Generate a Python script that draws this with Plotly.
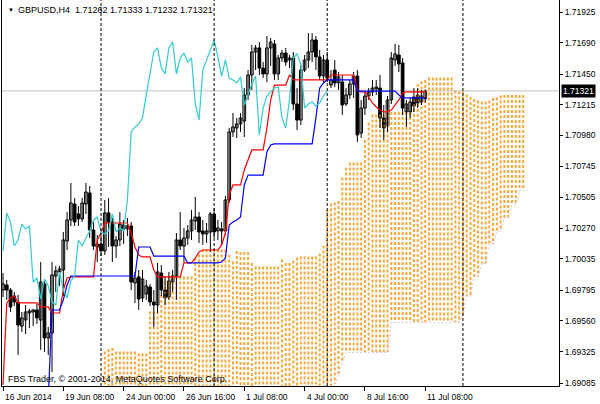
import plotly.graph_objects as go

# ---------------- data (GBPUSD H4, bar 0 = 16 Jun 2014 16:00) ----------------
OPEN = [1.69797, 1.69835, 1.69797, 1.69751, 1.69705, 1.69521, 1.69567, 1.69621, 1.69629, 1.69644,
        1.69567, 1.69843, 1.69430, 1.69468, 1.69904, 1.69935, 1.69950, 1.70172, 1.70333, 1.70455,
        1.70379, 1.70341, 1.70455, 1.70540, 1.70256, 1.70126, 1.70149, 1.70096, 1.70387, 1.70318,
        1.70134, 1.70180, 1.70295, 1.70264, 1.70287, 1.69851, 1.69897, 1.69736, 1.69766, 1.69820,
        1.69705, 1.69682, 1.69927, 1.69797, 1.69743, 1.69858, 1.69904, 1.70180, 1.70134, 1.70195,
        1.70249, 1.70325, 1.70356, 1.70249, 1.70226, 1.70241, 1.70379, 1.70249, 1.70264, 1.70249,
        1.70486, 1.71007, 1.71037, 1.71068, 1.71091, 1.71290, 1.71443, 1.71619, 1.71650, 1.71496,
        1.71451, 1.71650, 1.71680, 1.71451, 1.71573, 1.71611, 1.71558, 1.71573, 1.71221, 1.71098,
        1.71481, 1.71558, 1.71619, 1.71711, 1.71581, 1.71435, 1.71558, 1.71366, 1.71481, 1.71382,
        1.71389, 1.71221, 1.71290, 1.71374, 1.71435, 1.70999, 1.71190, 1.71282, 1.71313, 1.71336,
        1.71343, 1.71114, 1.71053, 1.71252, 1.71558, 1.71596, 1.71535, 1.71160, 1.71160, 1.71274,
        1.71290, 1.71236, 1.71262]
HIGH = [1.69927, 1.69874, 1.69812, 1.69782, 1.69759, 1.69629, 1.69682, 1.69652, 1.69652, 1.69690,
        1.70011, 1.69874, 1.69514, 1.70011, 1.69981, 1.69981, 1.70241, 1.70394, 1.70616, 1.70501,
        1.70440, 1.70501, 1.70616, 1.70593, 1.70318, 1.70218, 1.70210, 1.70486, 1.70501, 1.70348,
        1.70210, 1.70394, 1.70333, 1.70348, 1.70318, 1.69935, 1.69950, 1.69950, 1.69874, 1.69843,
        1.69797, 1.70004, 1.69988, 1.69904, 1.69935, 1.69950, 1.70233, 1.70394, 1.70272, 1.70295,
        1.70410, 1.70509, 1.70394, 1.70333, 1.70310, 1.70394, 1.70425, 1.70333, 1.70318, 1.70517,
        1.71037, 1.71152, 1.71114, 1.71152, 1.71343, 1.71481, 1.71673, 1.71673, 1.71695, 1.71542,
        1.71741, 1.71726, 1.71711, 1.71596, 1.71634, 1.71650, 1.71596, 1.71619, 1.71343, 1.71519,
        1.71596, 1.71764, 1.71764, 1.71741, 1.71634, 1.71596, 1.71619, 1.71481, 1.71558, 1.71466,
        1.71443, 1.71343, 1.71405, 1.71466, 1.71481, 1.71252, 1.71313, 1.71343, 1.71405, 1.71405,
        1.71443, 1.71213, 1.71282, 1.71619, 1.71680, 1.71673, 1.71573, 1.71252, 1.71267, 1.71343,
        1.71343, 1.71328, 1.71333]
LOW = [1.69743, 1.69721, 1.69629, 1.69675, 1.69300, 1.69476, 1.69460, 1.69506, 1.69521, 1.69537,
       1.69338, 1.69323, 1.69300, 1.69169, 1.69782, 1.69828, 1.69751, 1.70103, 1.70287, 1.70287,
       1.70287, 1.70318, 1.70379, 1.70195, 1.70103, 1.70011, 1.70057, 1.70065, 1.70126, 1.70011,
       1.70042, 1.70134, 1.70149, 1.70210, 1.69797, 1.69698, 1.69644, 1.69705, 1.69721, 1.69675,
       1.69514, 1.69621, 1.69751, 1.69682, 1.69721, 1.69782, 1.69721, 1.70103, 1.70011, 1.70142,
       1.70180, 1.70256, 1.70157, 1.70142, 1.70157, 1.70088, 1.70195, 1.70180, 1.70142, 1.70218,
       1.70463, 1.70968, 1.70961, 1.71007, 1.70968, 1.71252, 1.71328, 1.71481, 1.71443, 1.71420,
       1.71389, 1.71512, 1.71405, 1.71405, 1.71542, 1.71512, 1.71496, 1.71175, 1.71022, 1.71060,
       1.71466, 1.71496, 1.71542, 1.71481, 1.71405, 1.71389, 1.71389, 1.71343, 1.71351, 1.71328,
       1.71137, 1.71206, 1.71259, 1.71267, 1.70930, 1.70961, 1.71137, 1.71252, 1.71282, 1.71290,
       1.71037, 1.70945, 1.71007, 1.71221, 1.71512, 1.71466, 1.71137, 1.71045, 1.71114, 1.71160,
       1.71190, 1.71213, 1.71232]
CLOSE = [1.69843, 1.69797, 1.69667, 1.69705, 1.69529, 1.69583, 1.69629, 1.69636, 1.69644, 1.69583,
         1.69858, 1.69430, 1.69468, 1.69912, 1.69943, 1.69958, 1.70180, 1.70333, 1.70463, 1.70318,
         1.70341, 1.70463, 1.70547, 1.70256, 1.70134, 1.70149, 1.70096, 1.70387, 1.70318, 1.70134,
         1.70180, 1.70302, 1.70264, 1.70287, 1.69858, 1.69889, 1.69728, 1.69881, 1.69828, 1.69705,
         1.69682, 1.69935, 1.69797, 1.69736, 1.69866, 1.69904, 1.70180, 1.70134, 1.70195, 1.70249,
         1.70333, 1.70356, 1.70241, 1.70226, 1.70249, 1.70379, 1.70241, 1.70272, 1.70249, 1.70486,
         1.71007, 1.71045, 1.71068, 1.71114, 1.71290, 1.71443, 1.71619, 1.71650, 1.71496, 1.71451,
         1.71650, 1.71695, 1.71451, 1.71573, 1.71611, 1.71542, 1.71573, 1.71221, 1.71098, 1.71481,
         1.71558, 1.71619, 1.71711, 1.71581, 1.71435, 1.71558, 1.71420, 1.71405, 1.71382, 1.71428,
         1.71213, 1.71290, 1.71374, 1.71435, 1.70984, 1.71190, 1.71282, 1.71313, 1.71343, 1.71351,
         1.71114, 1.71037, 1.71252, 1.71573, 1.71604, 1.71527, 1.71190, 1.71221, 1.71236, 1.71206,
         1.71229, 1.71282, 1.71321]
TENKAN = [1.69070, 1.69698, 1.69736, 1.69751, 1.69698, 1.69698, 1.69698, 1.69698, 1.69698, 1.69698,
          1.69667, 1.69667, 1.69667, 1.69621, 1.69621, 1.69621, 1.69797, 1.69889, 1.69897, 1.69897,
          1.69897, 1.69897, 1.69897, 1.69897, 1.69897, 1.70180, 1.70233, 1.70310, 1.70310, 1.70310,
          1.70310, 1.70310, 1.70310, 1.70310, 1.70233, 1.70126, 1.70065, 1.70050, 1.70050, 1.70050,
          1.69950, 1.69897, 1.69897, 1.69897, 1.69897, 1.69897, 1.69897, 1.69897, 1.70004, 1.70004,
          1.70004, 1.70042, 1.70088, 1.70103, 1.70103, 1.70103, 1.70103, 1.70103, 1.70142, 1.70233,
          1.70524, 1.70601, 1.70601, 1.70601, 1.70716, 1.70792, 1.70869, 1.70869, 1.70869, 1.70869,
          1.71037, 1.71252, 1.71366, 1.71366, 1.71366, 1.71366, 1.71443, 1.71405, 1.71405, 1.71405,
          1.71405, 1.71405, 1.71405, 1.71405, 1.71405, 1.71405, 1.71405, 1.71443, 1.71443, 1.71443,
          1.71443, 1.71443, 1.71443, 1.71443, 1.71328, 1.71313, 1.71313, 1.71267, 1.71229, 1.71198,
          1.71175, 1.71160, 1.71160, 1.71175, 1.71213, 1.71252, 1.71305, 1.71313, 1.71313, 1.71313,
          1.71313, 1.71313, 1.71313]
KIJUN = [1.68955, 1.68955, 1.68955, 1.68955, 1.68955, 1.68955, 1.68955, 1.68955, 1.68955, 1.68955,
         1.68955, 1.68955, 1.68955, 1.69644, 1.69644, 1.69644, 1.69721, 1.69835, 1.69904, 1.69904,
         1.69904, 1.69904, 1.69904, 1.69904, 1.69904, 1.69904, 1.69904, 1.69904, 1.69904, 1.69904,
         1.69904, 1.69904, 1.69904, 1.69904, 1.69904, 1.69904, 1.70126, 1.70126, 1.70126, 1.70126,
         1.70057, 1.70057, 1.70057, 1.70057, 1.70057, 1.70057, 1.70057, 1.70057, 1.70057, 1.70004,
         1.70004, 1.70004, 1.70004, 1.70004, 1.70004, 1.70004, 1.70004, 1.70004, 1.70011, 1.70042,
         1.70295, 1.70318, 1.70333, 1.70356, 1.70601, 1.70677, 1.70677, 1.70677, 1.70677, 1.70677,
         1.70853, 1.70907, 1.70915, 1.70915, 1.70915, 1.70915, 1.70915, 1.70915, 1.70915, 1.70915,
         1.70915, 1.70915, 1.70915, 1.71114, 1.71343, 1.71382, 1.71405, 1.71405, 1.71405, 1.71405,
         1.71405, 1.71405, 1.71405, 1.71405, 1.71320, 1.71320, 1.71320, 1.71320, 1.71320, 1.71320,
         1.71320, 1.71320, 1.71320, 1.71320, 1.71320, 1.71290, 1.71267, 1.71267, 1.71267, 1.71267,
         1.71267, 1.71267, 1.71267]
SPAN_B = [1.68700, 1.68700, 1.68700, 1.68700, 1.68700, 1.68700, 1.68700, 1.68700, 1.68700, 1.68700,
          1.68700, 1.68700, 1.68700, 1.68700, 1.68700, 1.68700, 1.68700, 1.68700, 1.68700, 1.68700,
          1.68700, 1.68700, 1.68700, 1.68700, 1.68700, 1.68700, 1.68700, 1.68700, 1.68700, 1.68700,
          1.68700, 1.68700, 1.68700, 1.68700, 1.68700, 1.68700, 1.68700, 1.68700, 1.68700, 1.68700,
          1.68700, 1.68700, 1.68700, 1.68700, 1.68700, 1.68700, 1.68700, 1.68700, 1.68700, 1.68700,
          1.68700, 1.68700, 1.68700, 1.68700, 1.68700, 1.68700, 1.68700, 1.68700, 1.68700, 1.68700,
          1.68700, 1.69000, 1.69080, 1.69150, 1.69250, 1.69320, 1.69320, 1.69320, 1.69320, 1.69320,
          1.69320, 1.69320, 1.69320, 1.69320, 1.69320, 1.69320, 1.69320, 1.69550, 1.69550, 1.69550,
          1.69550, 1.69550, 1.69550, 1.69550, 1.69550, 1.69550, 1.69550, 1.69550, 1.69550, 1.69550,
          1.69550, 1.69550, 1.69550, 1.69550, 1.69550, 1.69550, 1.69610, 1.69750, 1.69750, 1.69900,
          1.69900, 1.70000, 1.70000, 1.70150, 1.70150, 1.70250, 1.70250, 1.70350, 1.70350, 1.70450,
          1.70450, 1.70560, 1.70560]
SHIFT = 26
X_LABELS = ["16 Jun 2014", "19 Jun 08:00", "24 Jun 00:00", "26 Jun 16:00",
            "1 Jul 08:00", "4 Jul 00:00", "8 Jul 16:00", "11 Jul 08:00"]
X_LABEL_BARS = [0, 16, 32, 48, 64, 80, 96, 112]
SEPARATOR_BARS = [26, 56, 86, 122]
Y_TICKS = [1.71925, 1.71690, 1.71450, 1.71215, 1.70980, 1.70745, 1.70505,
           1.70270, 1.70035, 1.69795, 1.69560, 1.69325, 1.69085]
SYMBOL = "GBPUSD,H4"
COPYRIGHT = "FBS Trader, \u00a9 2001-2014, MetaQuotes Software Corp."

FONT = "Liberation Sans, Arial, sans-serif"
n = len(CLOSE)
idx = list(range(n))

fig = go.Figure()

# ---------------- Ichimoku cloud ----------------
span_a = [(t + k) / 2 for t, k in zip(TENKAN, KIJUN)]
ox, oy, tx, ty = [], [], [], []
for i in idx:
    xs = i + SHIFT
    if span_a[i] >= SPAN_B[i]:
        ox += [xs, xs, None]
        oy += [span_a[i], SPAN_B[i], None]
    else:
        tx += [xs, xs, None]
        ty += [span_a[i], SPAN_B[i], None]
fig.add_trace(go.Scatter(x=ox, y=oy, mode="lines", hoverinfo="skip",
                         line=dict(color="#FBA73A", width=2, dash="3px,2px")))
if tx:
    fig.add_trace(go.Scatter(x=tx, y=ty, mode="lines", hoverinfo="skip",
                             line=dict(color="#D8BFD8", width=2, dash="3px,2px")))
fig.add_trace(go.Scatter(x=[i + SHIFT for i in idx], y=SPAN_B, mode="lines", hoverinfo="skip",
                         line=dict(color="#D8BFD8", width=1, dash="2px,2px")))

# ---------------- candles ----------------
wx, wy = [], []
for i in idx:
    wx += [i, i, None]
    wy += [LOW[i], HIGH[i], None]
fig.add_trace(go.Scatter(x=wx, y=wy, mode="lines", hoverinfo="skip",
                         line=dict(color="black", width=1)))
fig.add_trace(go.Bar(
    x=idx,
    y=[abs(c - o) for o, c in zip(OPEN, CLOSE)],
    base=[min(o, c) for o, c in zip(OPEN, CLOSE)],
    width=0.72,
    marker=dict(color=["white" if c >= o else "black" for o, c in zip(OPEN, CLOSE)],
                line=dict(color="black", width=1)),
    hoverinfo="skip"))

# ---------------- Ichimoku lines ----------------
fig.add_trace(go.Scatter(x=idx, y=TENKAN, mode="lines", hoverinfo="skip",
                         line=dict(color="#FF0000", width=1.2)))
fig.add_trace(go.Scatter(x=idx, y=KIJUN, mode="lines", hoverinfo="skip",
                         line=dict(color="#0000FF", width=1.2)))
fig.add_trace(go.Scatter(x=[i - SHIFT for i in idx[SHIFT:]], y=CLOSE[SHIFT:], mode="lines",
                         hoverinfo="skip", line=dict(color="#33CCCC", width=1.2)))

# ---------------- shapes / annotations ----------------
shapes = [dict(type="line", xref="paper", x0=0, x1=1, yref="y", y0=CLOSE[-1], y1=CLOSE[-1],
               line=dict(color="#C0C0C0", width=1), layer="below")]
for b in SEPARATOR_BARS:
    shapes.append(dict(type="line", xref="x", x0=b, x1=b, yref="paper", y0=0, y1=1,
                       line=dict(color="black", width=1, dash="3px,2px")))

ann = []
for b, t in zip(X_LABEL_BARS, X_LABELS):
    ann.append(dict(x=b, xref="x", y=0, yref="paper", yanchor="top", xanchor="left",
                    yshift=-4, text=t, showarrow=False, font=dict(size=8.5)))
ann.append(dict(x=1, xref="paper", y=CLOSE[-1], yref="y", xanchor="left", yanchor="middle",
                xshift=2, text=f"{CLOSE[-1]:.5f}", showarrow=False, bgcolor="black",
                borderpad=1, font=dict(color="white", size=8.5)))
ann.append(dict(x=0, xref="paper", y=1, yref="paper", xanchor="left", yanchor="top",
                xshift=4, yshift=-5, text="\u25BC", showarrow=False, font=dict(size=6)))
ann.append(dict(x=0, xref="paper", y=1, yref="paper", xanchor="left", yanchor="top",
                xshift=14, yshift=-3,
                text=f"{SYMBOL}\u00a0\u00a0{OPEN[-1]:.5f} {HIGH[-1]:.5f} {LOW[-1]:.5f} {CLOSE[-1]:.5f}",
                showarrow=False, font=dict(size=9)))
ann.append(dict(x=0, xref="paper", y=0, yref="paper", xanchor="left", yanchor="bottom",
                xshift=4, yshift=0, text=COPYRIGHT, showarrow=False, font=dict(size=9)))

fig.update_layout(
    width=600, height=404,
    margin=dict(l=2, r=41, t=0, b=18),
    paper_bgcolor="white", plot_bgcolor="white",
    showlegend=False, barmode="overlay",
    font=dict(family=FONT, size=9, color="black"),
    shapes=shapes, annotations=ann,
    xaxis=dict(range=[-0.265, 147.48], showgrid=False, zeroline=False,
               showline=True, linecolor="black", linewidth=1, mirror=True,
               ticks="outside", ticklen=4, tickcolor="black",
               tickvals=X_LABEL_BARS, showticklabels=False, fixedrange=True),
    yaxis=dict(range=[1.69062, 1.72017], side="right", showgrid=False, zeroline=False,
               showline=True, linecolor="black", linewidth=1, mirror=True,
               ticks="outside", ticklen=3, tickcolor="black",
               tickvals=Y_TICKS, ticktext=[f"{v:.5f}" for v in Y_TICKS],
               tickfont=dict(size=8.5), fixedrange=True),
)

fig.write_html("out.html", config={"displayModeBar": False},
               post_script="document.body.style.margin='0';document.body.style.padding='0';")
